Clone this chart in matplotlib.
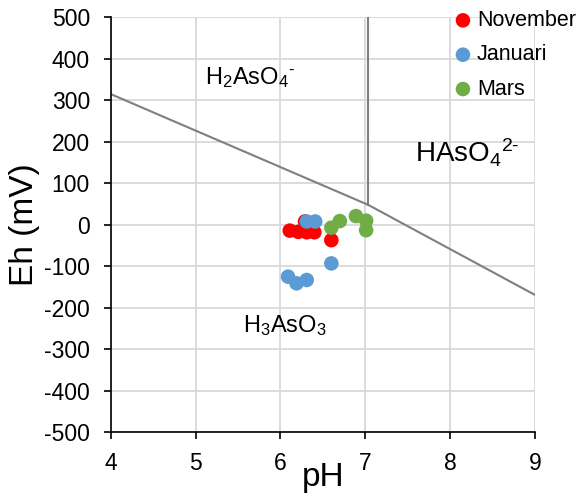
import matplotlib
matplotlib.use("Agg")
import matplotlib.pyplot as plt

plt.rcParams['font.family'] = ['Liberation Sans', 'DejaVu Sans']
plt.rcParams['mathtext.fontset'] = 'custom'
plt.rcParams['mathtext.rm'] = 'Liberation Sans'
plt.rcParams['mathtext.it'] = 'Liberation Sans'
plt.rcParams['axes.unicode_minus'] = False

# Sampling campaigns: pH and Eh (mV)
nov_ph = [6.11, 6.21, 6.29, 6.31, 6.40, 6.60]
nov_eh = [-14, -17, 8, -18, -18, -37]
jan_ph = [6.31, 6.41, 6.60, 6.09, 6.19, 6.31]
jan_eh = [8, 8, -93, -125, -141, -133]
mar_ph = [6.60, 6.70, 6.89, 7.01, 7.01]
mar_eh = [-7, 9, 21, 10, -13]

# Arsenic speciation boundaries
boundary_ph = [4.0, 7.035, 9.0]
boundary_eh = [315, 48, -169]
vertical_ph = [7.035, 7.035]
vertical_eh = [500, 48]

series = [("November", nov_ph, nov_eh, "#FF0000"),
          ("Januari", jan_ph, jan_eh, "#5B9BD5"),
          ("Mars", mar_ph, mar_eh, "#70AD47")]

W, H = 579, 495
fig = plt.figure(figsize=(W / 100, H / 100), dpi=100)
ax = fig.add_axes([110.7 / W, 1 - 432.3 / H, (535 - 110.7) / W, (432.3 - 17.3) / H])

ax.plot(boundary_ph, boundary_eh, color="#7F7F7F", lw=1.5, zorder=2)
ax.plot(vertical_ph, vertical_eh, color="#7F7F7F", lw=1.5, zorder=2)

for name, xs, ys, c in series:
    ax.scatter(xs, ys, s=110, color=c, edgecolors="none", label=name, zorder=3)

ax.set_xlim(4, 9)
ax.set_ylim(-500, 500)
ax.set_xticks(range(4, 10))
ax.set_yticks(range(-500, 501, 100))
ax.grid(True, color="#D9D9D9", lw=1.3)
ax.set_axisbelow(True)
for s in ("top", "right"):
    ax.spines[s].set_visible(False)
for s in ("left", "bottom"):
    ax.spines[s].set_linewidth(1.2)
ax.tick_params(direction="out", length=5, width=1.2, labelsize=16.5)
ax.tick_params(axis="y", pad=10)
ax.tick_params(axis="x", pad=9)

fig.text(323 / W, 1 - 486 / H, "pH", fontsize=24, ha="center", va="baseline")
fig.text(25 / W, 1 - 225 / H, "Eh (mV)", fontsize=24, ha="center", va="center",
         rotation=90)

ax.text(5.11, 339, r"$\mathregular{H_2AsO_4{}^{\text{-}}}$", fontsize=17,
        va="baseline", ha="left")
ax.text(7.59, 149, r"$\mathregular{HAsO_4{}^{\text{2-}}}$", fontsize=20,
        va="baseline", ha="left")
ax.text(5.56, -258, r"$\mathregular{H_3AsO_3}$", fontsize=17,
        va="baseline", ha="left")

leg = fig.legend(loc="upper left", bbox_to_anchor=(452.2 / W, 1 - 10 / H),
                 frameon=False, fontsize=15.5, handletextpad=0.15,
                 labelspacing=0.62, handlelength=1.0, borderpad=0,
                 borderaxespad=0)
for h in leg.legend_handles:
    h.set_sizes([110])

fig.savefig("out.png", dpi=100)
